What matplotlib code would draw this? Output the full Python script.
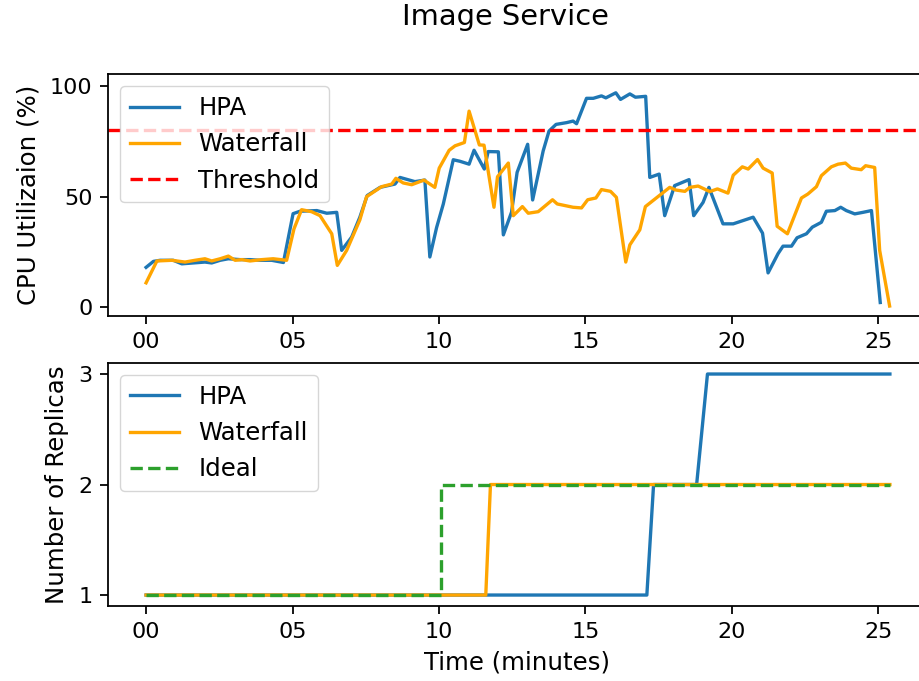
import matplotlib
matplotlib.use("Agg")
import matplotlib.pyplot as plt
from matplotlib.ticker import FuncFormatter

# CPU utilization (time in minutes, value in %)
hpa_t = [0, 0.25, 0.48, 0.93, 1.22, 1.61, 2.01, 2.24, 2.53, 2.81,
         3.21, 3.55, 3.89, 4.29, 4.69, 5.02, 5.26, 5.83, 6.17, 6.51,
         6.68, 7.02, 7.3, 7.55, 7.99, 8.5, 8.67, 9.18, 9.52, 9.69,
         9.92, 10.15, 10.49, 10.72, 11.03, 11.2, 11.55, 11.68, 12.03, 12.2,
         12.48, 12.67, 13.03, 13.2, 13.56, 13.76, 14.0, 14.36, 14.58, 14.7,
         15.04, 15.27, 15.55, 15.7, 16.04, 16.2, 16.52, 16.71, 17.06, 17.2,
         17.52, 17.71, 18.05, 18.54, 18.7, 19.02, 19.22, 19.7, 20.05, 20.73,
         21.05, 21.24, 21.58, 21.75, 22.04, 22.23, 22.55, 22.75, 23.06, 23.23,
         23.52, 23.72, 23.91, 24.2, 24.48, 24.77, 25.07]
hpa_cpu = [18, 20.7, 21.2, 21.2, 19.6, 20, 20.4, 20, 21.2, 21.9,
           21.5, 21.5, 21.2, 21.2, 20.2, 42.3, 43.4, 43.7, 42.5, 42.9,
           25.7, 31.7, 40.7, 50.5, 54.2, 55.7, 58.7, 56.8, 57.5, 22.7,
           36, 46.7, 66.7, 66, 64.7, 71, 62.5, 70.4, 70.3, 32.7,
           43, 61, 73.7, 48.5, 70.7, 79.7, 82.7, 83.5, 84.2, 83,
           94.5, 94.5, 95.6, 94.7, 97, 94, 96.5, 95, 95.4, 58.7,
           60.2, 41.4, 55, 57.7, 41.4, 47.4, 54.2, 37.7, 37.7, 40.7,
           33.5, 15.5, 24.2, 27.6, 27.6, 31.4, 33.2, 36.2, 38.4, 43.4,
           43.7, 45.2, 43.7, 42.2, 42.9, 43.7, 2.1]

wf_t = [0, 0.37, 0.88, 1.33, 1.67, 2.01, 2.24, 2.53, 2.81, 3.04,
        3.27, 3.55, 3.95, 4.34, 4.8, 5.05, 5.31, 5.65, 5.94, 6.34,
        6.53, 6.85, 7.3, 7.53, 8.04, 8.39, 8.53, 8.78, 9.07, 9.49,
        9.86, 10.01, 10.35, 10.55, 10.87, 11.03, 11.38, 11.54, 11.88, 12.0,
        12.37, 12.54, 12.85, 13.05, 13.39, 13.88, 14.04, 14.58, 14.87, 15.08,
        15.36, 15.55, 15.86, 16.06, 16.38, 16.52, 16.86, 17.05, 17.88, 18.09,
        18.4, 18.57, 18.85, 19.25, 19.51, 19.87, 20.05, 20.36, 20.56, 20.88,
        21.07, 21.38, 21.55, 21.9, 22.38, 22.6, 22.89, 23.06, 23.4, 23.63,
        23.88, 24.08, 24.42, 24.57, 24.88, 25.05, 25.39]
wf_cpu = [11, 20.9, 21.2, 20.4, 21.2, 21.9, 20.9, 21.9, 23.1, 21.2,
          21.5, 20.9, 21.5, 21.9, 21.2, 35.4, 44.1, 43.2, 41.4, 33.2,
          18.9, 25.7, 39.5, 50, 54.5, 55.7, 58.3, 56.2, 55.4, 57.5,
          54.2, 62.9, 71, 73, 74.5, 88.7, 73.4, 73.3, 45.2, 59,
          65.2, 41.4, 45.5, 42.5, 43.2, 48.6, 46.7, 45.2, 44.9, 48.6,
          49.4, 53.2, 52.4, 49.7, 20.4, 28.2, 35, 45.5, 54.2, 53,
          52.4, 54.2, 54.8, 52.3, 53.5, 51.6, 59.7, 63.5, 62.5, 66.8,
          62.9, 60.7, 36.6, 33.2, 49.4, 51.2, 54.5, 59.5, 63.5, 64.7,
          65.2, 62.9, 62.2, 64, 63.2, 25.7, 0.5]

threshold = 80

# Replicas
hpa_rep_t = [0, 17.1, 17.33, 18.8, 19.17, 25.4]
hpa_rep = [1, 1, 2, 2, 3, 3]
wf_rep_t = [0, 11.6, 11.76, 25.4]
wf_rep = [1, 1, 2, 2]
ideal_rep_t = [0, 10.08, 10.08, 25.4]
ideal_rep = [1, 1, 2, 2]

# everything scaled by 1.6 from the defaults
s = 1.6
plt.rcParams.update({
    'font.size': 10 * s,
    'axes.labelsize': 11 * s,
    'legend.fontsize': 11 * s,
    'axes.linewidth': 0.8 * s,
    'xtick.major.width': 0.8 * s,
    'ytick.major.width': 0.8 * s,
    'xtick.major.size': 3.5 * s,
    'ytick.major.size': 3.5 * s,
    'xtick.major.pad': 3.5 * s,
    'ytick.major.pad': 3.5 * s,
    'axes.labelpad': 4 * s,
})

fig = plt.figure(figsize=(9.2, 6.81), dpi=100)
ax1 = fig.add_axes([0.1174, 0.536, 0.890, 0.355])
ax2 = fig.add_axes([0.1174, 0.110, 0.890, 0.357])

lw = 1.5 * s
ax1.plot(hpa_t, hpa_cpu, color='tab:blue', linewidth=lw, label='HPA')
ax1.plot(wf_t, wf_cpu, color='orange', linewidth=lw, label='Waterfall')
ax1.axhline(threshold, color='red', linestyle='--', linewidth=lw, label='Threshold')
ax1.set_ylabel('CPU Utilizaion (%)')
ax1.set_ylim(-4, 105.4)
ax1.set_yticks([0, 50, 100])
ax1.legend(loc='upper left')

ax2.plot(hpa_rep_t, hpa_rep, color='tab:blue', linewidth=lw, label='HPA')
ax2.plot(wf_rep_t, wf_rep, color='orange', linewidth=lw, label='Waterfall')
ax2.plot(ideal_rep_t, ideal_rep, color='tab:green', linestyle='--', linewidth=lw, label='Ideal')
ax2.set_ylabel('Number of Replicas')
ax2.set_xlabel('Time (minutes)')
ax2.set_ylim(0.9, 3.1)
ax2.set_yticks([1, 2, 3])
ax2.legend(loc='upper left')

fmt = FuncFormatter(lambda v, p: '{:02d}'.format(int(round(v))))
for ax in (ax1, ax2):
    ax.set_xlim(-1.3, 26.66)
    ax.set_xticks([0, 5, 10, 15, 20, 25])
    ax.xaxis.set_major_formatter(fmt)

fig.text(0.549, 0.975, 'Image Service', ha='center', va='center', fontsize=13 * s)

plt.savefig('out.png', dpi=100)
